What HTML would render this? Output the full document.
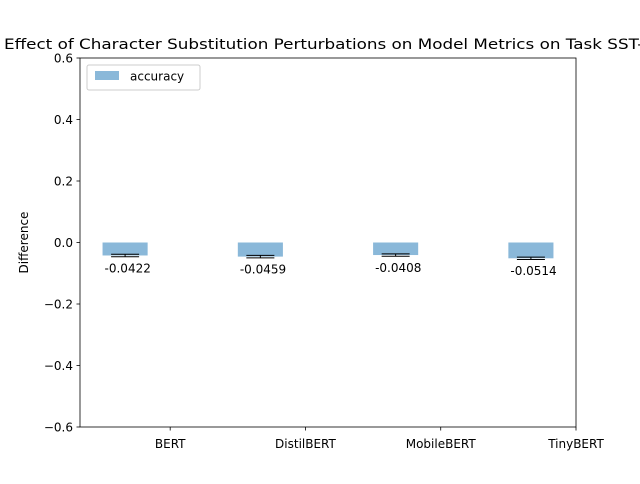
<!DOCTYPE html>
<html><head><meta charset="utf-8"><style>
body{margin:0;background:#fff;font-family:"DejaVu Sans","Liberation Sans",sans-serif;overflow:hidden;}
svg text{font-family:"DejaVu Sans","Liberation Sans",sans-serif;}
</style></head><body>
<svg id="chart" width="640" height="480" xmlns="http://www.w3.org/2000/svg">
<text x="4" y="49" font-size="14.4" textLength="650" lengthAdjust="spacingAndGlyphs">Effect of Character Substitution Perturbations on Model Metrics on Task SST-2</text>
<rect x="80" y="58" width="496" height="369" fill="none" stroke="#000" stroke-width="0.8"/>
<g id="yt"></g><g id="xt"></g><g id="bars"></g>
<text transform="translate(28,242.5) rotate(-90)" font-size="12" text-anchor="middle">Difference</text>
<g>
<rect x="87" y="65" width="113" height="25" fill="#fff" stroke="#ccc" rx="2"/>
<rect x="95" y="71" width="24" height="9" fill="#8ab8d9"/>
<text x="130" y="80.5" font-size="12">accuracy</text>
</g>
</svg>
<script>
const categories=["BERT","DistilBERT","MobileBERT","TinyBERT"];
const values=[-0.0422,-0.0459,-0.0408,-0.0514];
const errors=[0.004,0.004,0.004,0.004];
const yTicks=[-0.6,-0.4,-0.2,0.0,0.2,0.4,0.6];
const NS="http://www.w3.org/2000/svg";
const X0=80,X1=576,Y0=427,Y1=58;
const xs=v=>X0+(v+1/3)/(11/3)*(X1-X0);
const ys=v=>Y0-(v+0.6)/1.2*(Y0-Y1);
function mk(t,a,p){const e=document.createElementNS(NS,t);for(const k in a)e.setAttribute(k,a[k]);p.appendChild(e);return e;}
const yt=document.getElementById('yt'),xt=document.getElementById('xt'),bg=document.getElementById('bars');
yTicks.forEach(v=>{const y=ys(v);
const l=mk('line',{x1:X0-3.5,x2:X0,y1:y,y2:y,stroke:'#000','stroke-width':0.8},yt);


const t=mk('text',{x:X0-7,y:y+4.5,'font-size':12,'text-anchor':'end'},yt);


t.textContent=(v<0?'\u2212':'')+Math.abs(v).toFixed(1);});
const w=1/3;
categories.forEach((c,i)=>{
const tx=xs(i+w);
const l=mk('line',{x1:tx,x2:tx,y1:Y0,y2:Y0+3.5,stroke:'#000','stroke-width':0.8},xt);


const t=mk('text',{x:tx,y:Y0+21,'font-size':12,'text-anchor':'middle'},xt);


t.textContent=c;
const v=values[i],xl=xs(i-w/2),xr=xs(i+w/2),cx=xs(i);
const r=mk('rect',{x:xl,y:Math.min(ys(0),ys(v)),width:xr-xl,height:Math.abs(ys(v)-ys(0)),fill:'#8ab8d9'},bg);


const e=errors[i],yt1=ys(v+e),yb=ys(v-e);
const g=mk('g',{stroke:'#000','stroke-width':1},bg);


mk('line',{x1:cx,x2:cx,y1:yt1,y2:yb},g);
mk('line',{x1:cx-14,x2:cx+14,y1:yt1,y2:yt1},g);
mk('line',{x1:cx-14,x2:cx+14,y1:yb,y2:yb},g);
const lb=mk('text',{x:xl+2,y:ys(v-0.04)+4.5,'font-size':12},bg);


lb.textContent=v.toFixed(4);
});
</script>
</body></html>
